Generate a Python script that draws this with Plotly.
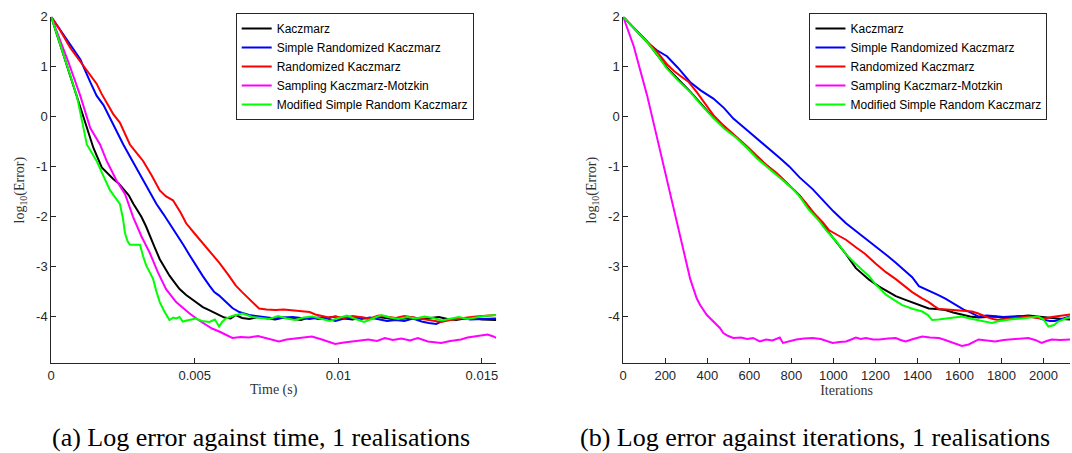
import plotly.graph_objects as go

# ---------------- data: left panel (time) ----------------
names = ["Kaczmarz", "Simple Randomized Kaczmarz", "Randomized Kaczmarz",
         "Sampling Kaczmarz-Motzkin", "Modified Simple Random Kaczmarz"]
colors = ["#000000", "#0000ff", "#ff0000", "#ff00ff", "#00ff00"]

t_kacz = [0, 0.0003, 0.0006, 0.00089, 0.00124, 0.00147, 0.00176, 0.00196, 0.00216, 0.00235,
          0.00251, 0.00270, 0.00286, 0.00300, 0.00314, 0.00330, 0.00343, 0.00360, 0.00378, 0.00395,
          0.00412, 0.00430, 0.00447, 0.00470, 0.00493, 0.00510, 0.00528, 0.00550, 0.00574, 0.00590,
          0.00603, 0.00625, 0.00643, 0.00665, 0.0069, 0.0072, 0.0075, 0.0078, 0.0081, 0.0084,
          0.0087, 0.0090, 0.0093, 0.0096, 0.0099, 0.0102, 0.0105, 0.0108, 0.0111, 0.0114,
          0.0117, 0.0120, 0.0123, 0.0126, 0.0129, 0.0132, 0.0135, 0.0138, 0.0141, 0.0144,
          0.0147, 0.0150, 0.0153, 0.0155]
e_kacz = [2, 1.47, 0.94, 0.42, -0.23, -0.63, -1.02, -1.14, -1.25, -1.34,
          -1.45, -1.58, -1.75, -1.88, -2.01, -2.2, -2.4, -2.62, -2.86, -3.03,
          -3.19, -3.33, -3.46, -3.58, -3.68, -3.75, -3.82, -3.88, -3.95, -3.98,
          -4.03, -4.05, -3.98, -4.04, -4.06, -4.02, -4.05, -4.07, -4.03, -4.05,
          -4.08, -4.02, -4.06, -4.04, -4.01, -4.05, -4.07, -4.03, -4.06, -4.02,
          -4.04, -4.07, -4.05, -4.03, -4.06, -4.04, -4.02, -4.06, -4.08, -4.05,
          -4.04, -4.07, -4.08, -4.08]

t_srk = [0, 0.0003, 0.0006, 0.00101, 0.00136, 0.00158, 0.00182, 0.00205, 0.00228, 0.00251,
         0.0028, 0.00309, 0.00338, 0.00366, 0.0039, 0.00412, 0.00435, 0.00460, 0.00482, 0.00504,
         0.00528, 0.00551, 0.00568, 0.00585, 0.0060, 0.0062, 0.00631, 0.00655, 0.00689, 0.00735,
         0.00781, 0.0081, 0.0084, 0.0087, 0.009, 0.0093, 0.0096, 0.0099, 0.0102, 0.0105,
         0.0108, 0.0111, 0.0114, 0.0117, 0.012, 0.0123, 0.0126, 0.0129, 0.01315, 0.01341,
         0.0137, 0.014, 0.0143, 0.0146, 0.0149, 0.0152, 0.0155]
e_srk = [2, 1.74, 1.49, 1.15, 0.69, 0.42, 0.23, -0.04, -0.3, -0.56,
         -0.86, -1.15, -1.45, -1.75, -1.95, -2.14, -2.34, -2.57, -2.78, -2.99,
         -3.2, -3.39, -3.52, -3.59, -3.68, -3.78, -3.84, -3.92, -3.98, -4.01,
         -4.05, -4.03, -4.02, -4.04, -4.06, -4.03, -4.05, -4.1, -4.05, -4.02,
         -4.06, -4.03, -4.07, -4.1, -4.08, -4.1, -4.05, -4.11, -4.14, -4.16,
         -4.08, -4.06, -4.04, -4.07, -4.06, -4.05, -4.05]

t_rk = [0, 0.0003, 0.00066, 0.00112, 0.00140, 0.00158, 0.00176, 0.00193, 0.00216, 0.00239, 0.00274,
        0.0030, 0.0032, 0.0035, 0.00378, 0.00400, 0.00424, 0.0045, 0.0047, 0.005, 0.00528,
        0.00555, 0.00585, 0.00615, 0.00643, 0.00665, 0.00689, 0.00705, 0.00724, 0.0075, 0.00781,
        0.0081, 0.0084, 0.00874, 0.009, 0.0092, 0.00945, 0.00966, 0.0099, 0.0102, 0.0105,
        0.0108, 0.0111, 0.0114, 0.0117, 0.012, 0.0123, 0.0126, 0.0129, 0.0132, 0.01358,
        0.0139, 0.0142, 0.0145, 0.0148, 0.0151, 0.0155]
e_rk = [2, 1.74, 1.38, 1.02, 0.82, 0.66, 0.45, 0.29, 0.05, -0.12, -0.56,
        -0.75, -0.89, -1.18, -1.48, -1.6, -1.68, -1.92, -2.14, -2.35, -2.54,
        -2.73, -2.93, -3.16, -3.39, -3.52, -3.65, -3.75, -3.85, -3.87, -3.88,
        -3.87, -3.89, -3.91, -3.92, -3.97, -4.0, -4.03, -4.01, -4.04, -4.0,
        -4.02, -4.05, -3.99, -4.02, -4.04, -4.0, -4.03, -4.06, -4.09, -4.12,
        -4.08, -4.05, -4.03, -4.01, -4.0, -3.98]

t_skm = [0, 0.0003, 0.0006, 0.00101, 0.00136, 0.0017, 0.00193, 0.00210, 0.00228, 0.00257,
         0.00285, 0.00314, 0.00343, 0.00372, 0.0040, 0.00435, 0.0046, 0.00482, 0.0051, 0.00539,
         0.0056, 0.00585, 0.0061, 0.00631, 0.0066, 0.00689, 0.0072, 0.00758, 0.00793, 0.0082,
         0.0085, 0.0088, 0.00908, 0.00943, 0.00989, 0.0102, 0.01047, 0.01075, 0.01104, 0.01135,
         0.01162, 0.0119, 0.0122, 0.0125, 0.01277, 0.01312, 0.01335, 0.01358, 0.0139, 0.01427,
         0.01450, 0.01473, 0.0150, 0.0152, 0.0154, 0.0155]
e_skm = [2, 1.55, 1.09, 0.42, -0.23, -0.56, -0.89, -1.08, -1.29, -1.55,
         -2.01, -2.4, -2.73, -3.13, -3.46, -3.72, -3.85, -3.95, -4.07, -4.18,
         -4.25, -4.31, -4.38, -4.44, -4.42, -4.43, -4.40, -4.45, -4.51, -4.47,
         -4.45, -4.44, -4.41, -4.47, -4.56, -4.53, -4.51, -4.49, -4.47, -4.5,
         -4.44, -4.48, -4.45, -4.49, -4.44, -4.51, -4.53, -4.54, -4.5, -4.47,
         -4.43, -4.41, -4.39, -4.37, -4.41, -4.44]

t_msrk = [0, 0.0003, 0.0006, 0.00089, 0.00124, 0.00140, 0.00158, 0.00180, 0.00205, 0.00225,
          0.00239, 0.00250, 0.00257, 0.00266, 0.00274, 0.00290, 0.00309, 0.00320, 0.00331, 0.00343,
          0.00355, 0.00366, 0.00378, 0.00395, 0.00412, 0.00425, 0.00435, 0.00447, 0.00458, 0.00480,
          0.00504, 0.00525, 0.00551, 0.00570, 0.00585, 0.00595, 0.00608, 0.00630, 0.00666, 0.0070,
          0.0073, 0.0076, 0.0079, 0.0082, 0.0085, 0.0088, 0.0091, 0.0094, 0.0097, 0.0100,
          0.0103, 0.0106, 0.0109, 0.0112, 0.0115, 0.0118, 0.0121, 0.0124, 0.0127, 0.0130,
          0.0133, 0.0136, 0.0139, 0.0142, 0.0145, 0.0148, 0.0151, 0.0155]
e_msrk = [2, 1.46, 0.92, 0.42, -0.56, -0.72, -0.89, -1.17, -1.48, -1.64,
          -1.75, -2.05, -2.34, -2.5, -2.57, -2.57, -2.57, -2.8, -2.99, -3.12,
          -3.26, -3.5, -3.72, -3.92, -4.08, -4.03, -4.05, -4.02, -4.11, -4.08,
          -4.05, -4.1, -4.12, -4.07, -4.21, -4.12, -4.05, -4.0, -3.95, -4.02,
          -4.04, -4.06, -4.0, -4.05, -4.08, -4.03, -4.01, -4.06, -4.1, -4.04,
          -3.99, -4.06, -4.12, -4.05, -3.98, -4.03, -4.06, -4.02, -4.05, -4.01,
          -4.04, -4.09, -4.05, -4.02, -4.06, -4.03, -4.0, -3.98]

# ---------------- data: right panel (iterations) ----------------
i_kacz = [0, 50, 114, 208, 319, 429, 539, 634, 745, 839, 934, 1013, 1060, 1107, 1140, 1170,
          1218, 1260, 1297, 1340, 1375, 1420, 1454, 1490, 1533, 1570, 1612, 1650, 1691, 1730,
          1770, 1810, 1849, 1890, 1928, 1970, 2007, 2050, 2090, 2126]
r_kacz = [2, 1.78, 1.5, 0.98, 0.5, -0.02, -0.42, -0.8, -1.2, -1.58, -2.08, -2.5, -2.76, -3.04,
          -3.17, -3.27, -3.41, -3.52, -3.6, -3.67, -3.73, -3.8, -3.85, -3.86, -3.88, -3.93,
          -3.98, -4.01, -4.03, -4.02, -4.01, -4.04, -4.02, -4.0, -3.99, -4.01, -4.03, -4.05,
          -4.06, -4.07]

i_srk = [0, 50, 114, 160, 208, 260, 319, 370, 429, 480, 524, 580, 634, 690, 745, 790, 839, 900,
         949, 1000, 1060, 1100, 1139, 1180, 1218, 1260, 1297, 1340, 1375, 1407, 1440, 1470, 1500,
         1533, 1565, 1596, 1620, 1644, 1670, 1691, 1730, 1770, 1810, 1849, 1890, 1928, 1970,
         2007, 2030, 2054, 2090, 2126]
r_srk = [2, 1.78, 1.49, 1.33, 1.21, 0.98, 0.69, 0.52, 0.36, 0.17, -0.04, -0.24, -0.43, -0.62,
         -0.83, -1.0, -1.22, -1.45, -1.68, -1.9, -2.14, -2.27, -2.4, -2.53, -2.67, -2.8, -2.93,
         -3.08, -3.22, -3.4, -3.46, -3.52, -3.58, -3.65, -3.73, -3.82, -3.87, -3.91, -3.96,
         -4.01, -3.99, -4.0, -4.02, -4.01, -4.0, -4.01, -4.03, -4.08, -4.1, -4.1, -4.05, -4.01]

i_rk = [0, 50, 114, 160, 208, 240, 271, 310, 350, 390, 429, 470, 508, 550, 587, 630, 681, 730,
        776, 820, 871, 910, 949, 980, 1013, 1060, 1107, 1150, 1202, 1250, 1297, 1340, 1375, 1420,
        1454, 1480, 1502, 1540, 1581, 1620, 1660, 1690, 1723, 1760, 1786, 1820, 1849, 1890, 1928,
        1970, 2007, 2040, 2070, 2100, 2126]
r_rk = [2, 1.78, 1.49, 1.3, 1.05, 0.92, 0.82, 0.7, 0.49, 0.25, 0.03, -0.15, -0.3, -0.45, -0.59,
        -0.77, -0.97, -1.13, -1.31, -1.5, -1.74, -1.95, -2.12, -2.28, -2.36, -2.47, -2.62,
        -2.75, -2.95, -3.12, -3.26, -3.4, -3.52, -3.64, -3.72, -3.8, -3.86, -3.87, -3.88, -3.89,
        -3.91, -3.95, -4.01, -4.06, -4.08, -4.06, -4.05, -4.03, -4.01, -4.04, -4.05, -4.02,
        -4.0, -3.99, -3.97]

i_skm = [0, 50, 114, 161, 208, 224, 256, 271, 303, 319, 350, 366, 398, 429, 460, 476, 500, 524,
         560, 590, 618, 650, 680, 710, 745, 760, 790, 824, 860, 902, 940, 970, 997, 1030, 1060,
         1085, 1107, 1130, 1155, 1190, 1218, 1260, 1297, 1320, 1344, 1380, 1423, 1460, 1502,
         1525, 1549, 1580, 1612, 1644, 1670, 1691, 1730, 1770, 1810, 1849, 1890, 1928, 1960,
         1991, 2015, 2038, 2080, 2126]
r_skm = [2, 1.41, 0.42, -0.43, -1.29, -1.6, -2.14, -2.4, -3.0, -3.26, -3.65, -3.78, -3.98,
         -4.11, -4.24, -4.34, -4.4, -4.44, -4.43, -4.46, -4.44, -4.51, -4.47, -4.49, -4.43,
         -4.54, -4.5, -4.47, -4.45, -4.44, -4.46, -4.5, -4.54, -4.52, -4.51, -4.47, -4.43,
         -4.46, -4.44, -4.47, -4.47, -4.45, -4.44, -4.48, -4.51, -4.46, -4.41, -4.43, -4.44,
         -4.47, -4.51, -4.55, -4.6, -4.57, -4.52, -4.47, -4.49, -4.51, -4.48, -4.47, -4.45,
         -4.44, -4.48, -4.54, -4.5, -4.47, -4.48, -4.47]

i_msrk = [0, 50, 114, 160, 208, 260, 319, 370, 429, 480, 539, 590, 634, 690, 745, 800, 839, 880,
          934, 970, 1013, 1060, 1100, 1139, 1170, 1202, 1250, 1290, 1328, 1380, 1423, 1450, 1470,
          1500, 1533, 1570, 1612, 1650, 1691, 1720, 1754, 1790, 1817, 1860, 1896, 1940, 1975,
          2000, 2023, 2050, 2070, 2100, 2126]
r_msrk = [2, 1.77, 1.49, 1.25, 0.96, 0.73, 0.49, 0.24, -0.03, -0.24, -0.43, -0.63, -0.83, -1.03,
          -1.22, -1.42, -1.6, -1.85, -2.1, -2.3, -2.5, -2.76, -2.93, -3.07, -3.2, -3.37, -3.57,
          -3.68, -3.78, -3.86, -3.91, -3.98, -4.08, -4.07, -4.05, -4.04, -4.01, -4.05, -4.09,
          -4.12, -4.14, -4.1, -4.08, -4.06, -4.05, -4.03, -4.01, -4.07, -4.21, -4.18, -4.11,
          -4.06, -4.02]

y_ticks = [2, 1, 0, -1, -2, -3, -4]
y_ticktext = ["2", "1", "0", "-1", "-2", "-3", "-4"]
t_ticks = [0, 0.005, 0.01, 0.015]
t_ticktext = ["0", "0.005", "0.01", "0.015"]
i_ticks = [0, 200, 400, 600, 800, 1000, 1200, 1400, 1600, 1800, 2000]
i_ticktext = [str(v) for v in i_ticks]

left_x = [t_kacz, t_srk, t_rk, t_skm, t_msrk]
left_y = [e_kacz, e_srk, e_rk, e_skm, e_msrk]
right_x = [i_kacz, i_srk, i_rk, i_skm, i_msrk]
right_y = [r_kacz, r_srk, r_rk, r_skm, r_msrk]

# ---------------- figure ----------------
W, H = 1072, 453
fig = go.Figure()
for n, c, xs, ys in zip(names, colors, left_x, left_y):
    fig.add_trace(go.Scatter(x=xs, y=ys, mode="lines", name=n, line=dict(color=c, width=2),
                             xaxis="x", yaxis="y", legend="legend"))
for n, c, xs, ys in zip(names, colors, right_x, right_y):
    fig.add_trace(go.Scatter(x=xs, y=ys, mode="lines", name=n, line=dict(color=c, width=2),
                             xaxis="x2", yaxis="y2", legend="legend2"))

axis_col = "#262626"
tickfont = dict(family="Liberation Sans, Arial, sans-serif", size=13, color=axis_col)
titlefont = dict(family="Liberation Serif, Times New Roman, serif", size=14, color="#333333")
serif = "Liberation Serif, Times New Roman, serif"
ydom = [1 - 362 / H, 1 - 10 / H]

common = dict(showline=True, linecolor=axis_col, linewidth=1, ticks="inside", ticklen=5,
              tickcolor=axis_col, tickwidth=1, showgrid=False, zeroline=False,
              tickfont=tickfont, mirror=False)

legend_common = dict(y=1 - 6 / H, xanchor="left", yanchor="top", bgcolor="white",
                     bordercolor=axis_col, borderwidth=1, tracegroupgap=0,
                     font=dict(family="Liberation Sans, Arial, sans-serif", size=12,
                               color="#000000"))

fig.update_layout(
    width=W, height=H, margin=dict(l=0, r=0, t=0, b=0),
    paper_bgcolor="white", plot_bgcolor="white",
    xaxis=dict(domain=[47.5 / W, 495 / W], range=[0, 0.0155], anchor="y",
               tickvals=t_ticks, ticktext=t_ticktext,
               title=dict(text="Time (s)", font=titlefont, standoff=2), **common),
    yaxis=dict(domain=ydom, range=[-4.95, 2], anchor="x",
               tickvals=y_ticks, ticktext=y_ticktext,
               title=dict(text="log<sub>10</sub>(Error)", font=titlefont, standoff=8), **common),
    xaxis2=dict(domain=[622.7 / W, 1.0], range=[0, 2126], anchor="y2",
                tickvals=i_ticks, ticktext=i_ticktext,
                title=dict(text="Iterations", font=titlefont, standoff=2), **common),
    yaxis2=dict(domain=ydom, range=[-4.95, 2], anchor="x2",
                tickvals=y_ticks, ticktext=y_ticktext,
                title=dict(text="log<sub>10</sub>(Error)", font=titlefont, standoff=8), **common),
    legend=dict(x=233 / W, **legend_common),
    legend2=dict(x=810 / W, **legend_common),
    annotations=[
        dict(text="(a) Log error against time, 1 realisations", xref="paper", yref="paper",
             x=46 / W, y=1 - 437 / H, xanchor="left", yanchor="middle", showarrow=False,
             font=dict(family=serif, size=26, color="#000000")),
        dict(text="(b) Log error against iterations, 1 realisations", xref="paper", yref="paper",
             x=577 / W, y=1 - 437 / H, xanchor="left", yanchor="middle", showarrow=False,
             font=dict(family=serif, size=26, color="#000000")),
    ],
)

fig.write_html("out.html")
